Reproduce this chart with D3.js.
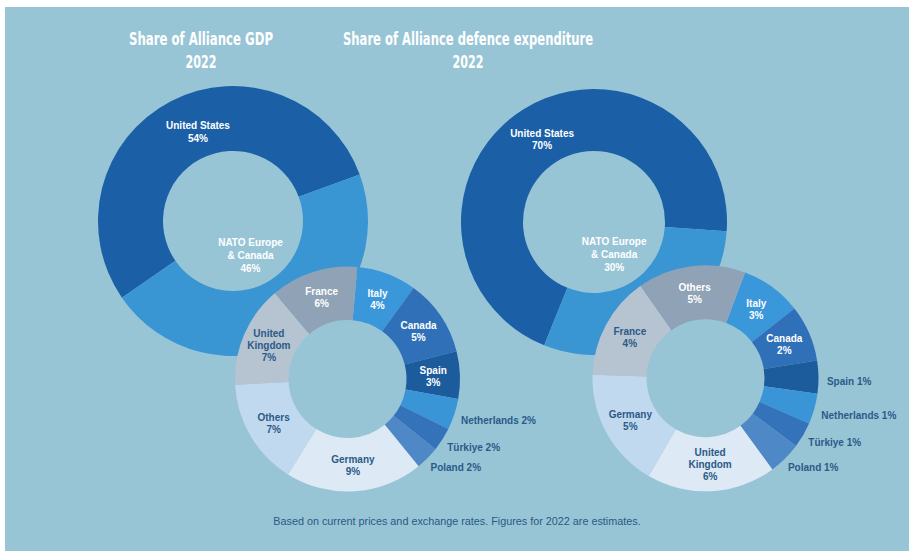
<!DOCTYPE html>
<html>
<head>
<meta charset="utf-8">
<script src="https://cdn.jsdelivr.net/npm/d3@7"></script>
<style>
  body { margin: 0; background: #fff; }
  svg { display: block; }
</style>
</head>
<body>
<div id="chart"></div>
<script>
// data
var bigCategories = ["United States", "NATO Europe & Canada"];
var gdpShare = [54, 46];
var defenceShare = [70, 30];

var gdpCountries = ["Italy", "Canada", "Spain", "Netherlands", "Türkiye", "Poland", "Germany", "Others", "United Kingdom", "France"];
var gdpCountryShare = [4.05, 5.2, 3.2, 2.1, 1.6, 1.6, 9.3, 7.2, 6.9, 5.9];

var defCountries = ["Italy", "Canada", "Spain", "Netherlands", "Türkiye", "Poland", "United Kingdom", "Germany", "France", "Others"];
var defCountryShare = [2.6, 2.4, 1.4, 1.3, 1.1, 1.4, 5.5, 5.1, 4.4, 4.6];

var titles = [["Share of Alliance GDP", "2022"], ["Share of Alliance defence expenditure", "2022"]];
var footnote = "Based on current prices and exchange rates. Figures for 2022 are estimates.";

var W = 909, H = 551;
var bg = "#98c5d6";
var bigColors = ["#1b5fa7", "#3a95d3"];
var smallColors = ["#3a97d9", "#2f70b8", "#1c5c9c", "#3995d6", "#3473ba", "#4f88c7", "#dde9f4", "#c1d9ee", "#b6c3d0", "#8fa2b6"];
var darkText = "#2b5a87";
var wrap = { "United Kingdom": ["United", "Kingdom"], "NATO Europe & Canada": ["NATO Europe", "& Canada"] };
var rad = Math.PI / 180;

var svg = d3.select("#chart").append("svg")
    .attr("width", W)
    .attr("height", H)
    .style("font-family", "'Liberation Sans', Arial, sans-serif");

svg.append("rect")
    .attr("x", 5).attr("y", 7)
    .attr("width", W - 5).attr("height", H - 7)
    .attr("fill", bg);

function drawDonut(cfg) {
  var g = svg.append("g").attr("transform", "translate(" + cfg.cx + "," + cfg.cy + ")");
  var data = cfg.names.map(function(n, i) { return { name: n, value: cfg.values[i], color: cfg.colors[i] }; });

  var pie = d3.pie()
      .value(function(d) { return d.value; })
      .sort(null)
      .startAngle(cfg.start * rad)
      .endAngle(cfg.start * rad + 2 * Math.PI);

  var arc = d3.arc().innerRadius(cfg.ri).outerRadius(cfg.ro);
  var arcs = pie(data);

  // hole, so the small ring covers what is behind it
  g.append("circle").attr("r", cfg.ri).attr("fill", bg);

  g.selectAll("path.slice")
      .data(arcs)
    .enter().append("path")
      .attr("class", "slice")
      .attr("d", arc)
      .attr("fill", function(d) { return d.data.color; });

  arcs.forEach(function(d) {
    var mid = (d.startAngle + d.endAngle) / 2;
    var pct = Math.round(d.data.value) + "%";
    var inside = (d.endAngle - d.startAngle) > 0.33;

    if (inside) {
      var r = cfg.labelR ? cfg.labelR(d) : (cfg.ri + cfg.ro) / 2;
      var a = mid + (cfg.labelShift ? cfg.labelShift(d) : 0) * rad;
      var lines = (wrap[d.data.name] || [d.data.name]).concat([pct]);
      var fill = d3.lab(d.data.color).l > 72 ? darkText : "#fff";
      var t = g.append("text")
          .attr("x", r * Math.sin(a))
          .attr("y", -r * Math.cos(a))
          .attr("text-anchor", "middle")
          .attr("dominant-baseline", "central")
          .attr("font-size", 10)
          .attr("font-weight", "bold")
          .attr("fill", fill);
      lines.forEach(function(l, i) {
        t.append("tspan")
            .attr("x", r * Math.sin(a))
            .attr("dy", i === 0 ? -(lines.length - 1) / 2 * cfg.lh : cfg.lh)
            .text(l);
      });
    } else {
      var b = mid + 2 * rad, ro = cfg.ro + 8.5;
      g.append("text")
          .attr("x", ro * Math.sin(b))
          .attr("y", -ro * Math.cos(b))
          .attr("dominant-baseline", "central")
          .attr("font-size", 10)
          .attr("font-weight", "bold")
          .attr("fill", darkText)
          .text(d.data.name + " " + pct);
    }
  });
}

// big rings first, small rings sit on top
drawDonut({ cx: 233, cy: 221, ro: 135, ri: 70, start: -124.6, names: bigCategories, values: gdpShare, colors: bigColors, lh: 12.8,
  labelR: function(d) { return d.index === 0 ? 96 : 38; },
  labelShift: function(d) { return d.index === 0 ? 6 : 0; } });
drawDonut({ cx: 594, cy: 222, ro: 133, ri: 71, start: -158, names: bigCategories, values: defenceShare, colors: bigColors, lh: 12.8,
  labelR: function(d) { return d.index === 0 ? 98 : 38; } });
drawDonut({ cx: 347.5, cy: 379, ro: 112.5, ri: 59, start: 5, names: gdpCountries, values: gdpCountryShare, colors: smallColors, lh: 12 });
drawDonut({ cx: 705.5, cy: 378.3, ro: 113, ri: 59, start: 20.5, names: defCountries, values: defCountryShare, colors: smallColors, lh: 12 });

// titles (condensed face squeezed to the width in the picture)
var titleX = [201, 468];
var titleW = [[144, 31], [250, 31]];
titles.forEach(function(t, i) {
  t.forEach(function(line, j) {
    svg.append("text")
        .attr("x", titleX[i])
        .attr("y", j === 0 ? 45 : 68)
        .attr("text-anchor", "middle")
        .attr("fill", "#fff")
        .attr("font-family", "'DejaVu Sans Condensed', 'DejaVu Sans', sans-serif")
        .attr("font-size", 18)
        .attr("font-weight", "bold")
        .attr("textLength", titleW[i][j])
        .attr("lengthAdjust", "spacingAndGlyphs")
        .text(line);
  });
});

svg.append("text")
    .attr("x", 457)
    .attr("y", 525)
    .attr("text-anchor", "middle")
    .attr("font-size", 10.8)
    .attr("fill", "#285a82")
    .text(footnote);
</script>
</body>
</html>
